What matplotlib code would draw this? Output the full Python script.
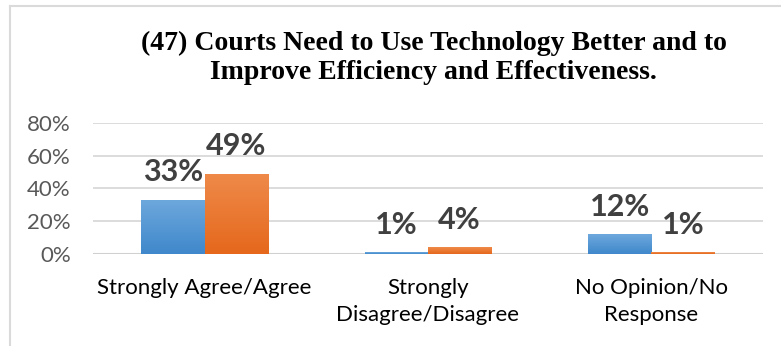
import matplotlib
matplotlib.use("Agg")
import matplotlib.pyplot as plt
from matplotlib.lines import Line2D
from matplotlib.colors import LinearSegmentedColormap
import numpy as np

categories = ["Strongly Agree/Agree", "Strongly\nDisagree/Disagree", "No Opinion/No\nResponse"]
series_a = [33, 1, 12]
series_b = [49, 4, 1]
yticks = [0, 20, 40, 60, 80]
title = "(47) Courts Need to Use Technology Better and to\nImprove Efficiency and Effectiveness."

blue_grad = ("#3F88CB", "#6EA8DD")
orange_grad = ("#E5681C", "#EF8A4A")

fig = plt.figure(figsize=(7.81, 3.46), dpi=100)
ax = fig.add_axes([0.119, 0.266, 0.858, 0.379])
ax.set_xlim(-0.5, 2.5)
ax.set_ylim(0, 80)

x = np.arange(len(categories))
w = 0.283
bars_a = ax.bar(x - w / 2, series_a, w, color=blue_grad[0], zorder=3)
bars_b = ax.bar(x + w / 2, series_b, w, color=orange_grad[0], zorder=3)

# vertical gradient fill, lighter at the top of each bar
grad = np.linspace(0, 1, 256).reshape(-1, 1)
for bars, cols in ((bars_a, blue_grad), (bars_b, orange_grad)):
    cmap = LinearSegmentedColormap.from_list("g", list(cols))
    for b in bars:
        x0, h = b.get_x(), b.get_height()
        im = ax.imshow(grad, cmap=cmap, origin="lower", aspect="auto",
                       extent=(x0, x0 + b.get_width(), 0, h), zorder=3.1)
        im.set_clip_path(b)

for bars, vals in ((bars_a, series_a), (bars_b, series_b)):
    for b, v in zip(bars, vals):
        ax.annotate(f"{v}%", (b.get_x() + b.get_width() / 2, v),
                    xytext=(0, 20), textcoords="offset points",
                    ha="center", va="center", fontsize=22, fontweight="bold",
                    color="#404040", family="Lato", zorder=4)

ax.set_xlim(-0.5, 2.5)
ax.set_ylim(0, 80)
ax.set_yticks(yticks)
ax.set_yticklabels([f"{t}%" for t in yticks], fontsize=16, color="#595959", family="Lato")
ax.set_xticks(x)
ax.set_xticklabels(categories, fontsize=16, color="#000000", family="Lato", linespacing=1.45)
ax.tick_params(axis="both", length=0)
ax.tick_params(axis="y", pad=16)
ax.tick_params(axis="x", pad=17)
for s in ax.spines.values():
    s.set_visible(False)
ax.grid(axis="y", color="#D9D9D9", linewidth=1.3, zorder=0)
ax.axhline(0, color="#D0D0D0", linewidth=2.2, zorder=2)

fig.text(0.555, 0.833, title, ha="center", va="center", fontsize=20,
         fontweight="bold", family="Liberation Serif", linespacing=1.2)

# outer frame
fig.add_artist(Line2D([10 / 781, 10 / 781], [0, 1 - 6 / 346], transform=fig.transFigure,
                      color="#DADADA", linewidth=1.5))
fig.add_artist(Line2D([10 / 781, 1], [1 - 6 / 346, 1 - 6 / 346], transform=fig.transFigure,
                      color="#DADADA", linewidth=1.5))

fig.savefig("out.png", dpi=100)
